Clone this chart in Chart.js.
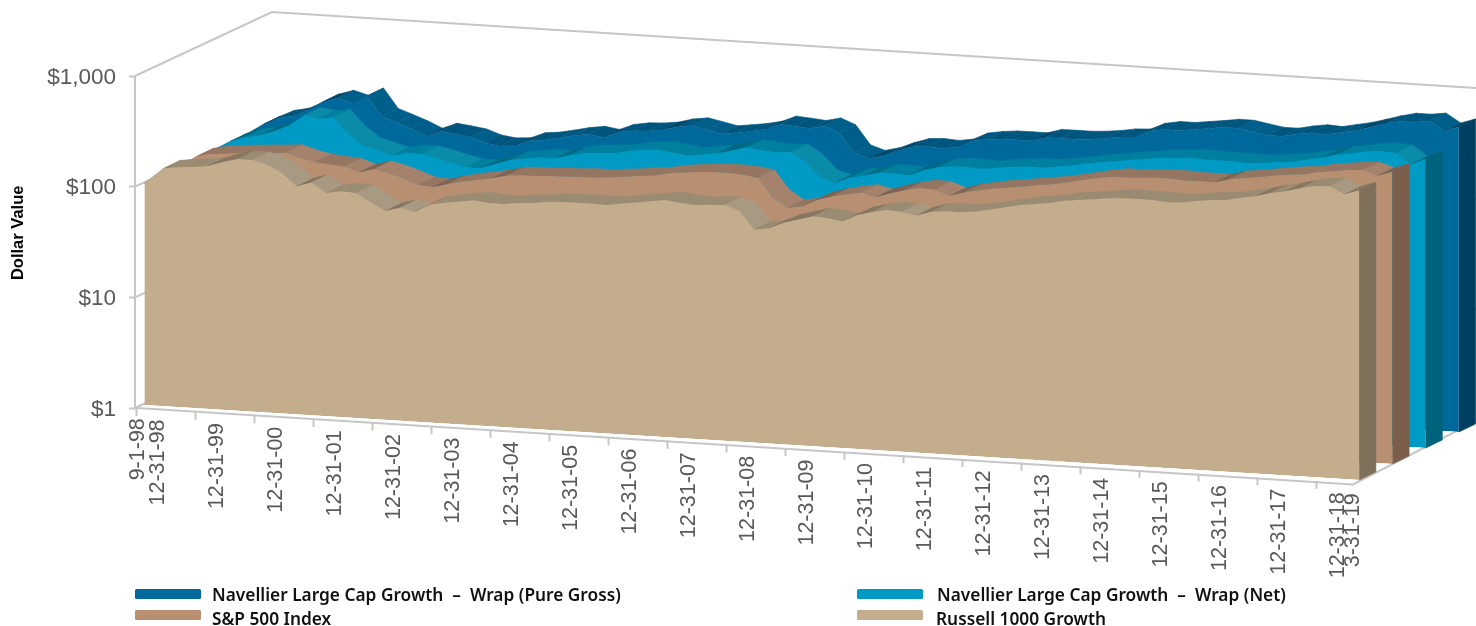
<!DOCTYPE html>
<html>
<head>
<meta charset="utf-8">
<style>html,body{margin:0;padding:0;background:#fff}canvas{display:block}</style>
<script src="https://cdn.jsdelivr.net/npm/chart.js@4"></script>
</head>
<body>
<canvas id="c" width="1476" height="626"></canvas>
<script>
const monthsFromStart = [0,4,7,10,13,16,19,22,25,28,31,34,37,40,43,46,49,52,55,58,61,64,67,70,73,76,79,82,85,88,91,94,97,100,103,106,109,112,115,118,121,124,127,130,133,136,139,142,145,148,151,154,157,160,163,166,169,172,175,178,181,184,187,190,193,196,199,202,205,208,211,214,217,220,223,226,229,232,235,238,241,244,247];
const tickMonths = [0,4,16,28,40,52,64,76,88,100,112,124,136,148,160,172,184,196,208,220,232,244,247];
const tickLabels = ['9-1-98','12-31-98','12-31-99','12-31-00','12-31-01','12-31-02','12-31-03','12-31-04','12-31-05','12-31-06','12-31-07','12-31-08','12-31-09','12-31-10','12-31-11','12-31-12','12-31-13','12-31-14','12-31-15','12-31-16','12-31-17','12-31-18','3-31-19'];
const yTickValues = [1,10,100,1000];

const russell1000 = [100,141,147,151,157,174,188,188,174,149,115,127,104,110,108,91,77,84,79,93,99,103,108,104,104,108,110,115,117,117,117,116,122,127,133,139,133,130,133,135,122,84,88,101,110,120,117,112,130,141,150,147,139,153,158,157,163,173,185,197,205,214,228,236,245,255,260,260,260,253,258,270,280,285,305,322,350,370,400,428,435,375,415];
const sp500 = [100,130,139,143,147,150,153,157,143,134,130,127,115,125,117,106,95,93,101,108,114,120,130,133,133,136,136,139,139,143,147,153,157,167,173,178,182,182,178,170,115,95,100,116,127,136,143,133,147,160,170,167,150,165,175,185,192,200,209,218,232,247,263,275,275,280,285,285,280,280,280,305,318,330,348,360,370,395,410,428,437,395,437];
const wrapNet = [100,127,141,150,167,192,240,228,240,173,139,127,117,125,125,117,108,101,101,112,124,130,136,136,147,157,160,163,173,182,185,178,170,178,185,200,218,209,205,209,173,127,117,133,141,153,153,150,170,185,192,192,188,197,205,209,209,218,228,240,253,263,275,285,300,300,312,305,305,305,300,305,318,325,348,370,400,418,445,455,445,360,410];
const wrapPureGross = [100,130,150,160,185,223,245,225,267,178,160,143,125,141,136,130,117,112,115,130,134,143,153,160,153,173,182,185,192,209,218,205,192,200,209,223,253,247,240,258,228,153,139,150,170,188,192,188,197,228,240,247,247,247,270,270,270,275,285,300,305,350,370,370,385,400,418,418,395,375,375,400,418,410,437,465,507,555,595,595,620,515,570];

const seriesNames = {
  gross: 'Navellier Large Cap Growth  –  Wrap (Pure Gross)',
  net: 'Navellier Large Cap Growth  –  Wrap (Net)',
  sp: 'S&P 500 Index',
  russell: 'Russell 1000 Growth'
};
const frontColors = ['#C3AD8C','#B98F72','#009AC4','#00699B'];
const sideColors  = ['#7F705C','#7B5F4C','#00637C','#003F60'];
const facetColors = [
  ['#857660','#9A8B73','#A89A82'],
  ['#7F6250','#967561','#A5826B'],
  ['#006B85','#007F9E','#0A8BA8'],
  ['#00476B','#00557E','#005F8A']
];
const GRAY = '#C6C6C6';
const TEXT = '#595959';

const SLOPE = 0.0617;
const STEP = {x:33.2, y:-16};
const FRONT = {x:8.3, y:-3};
const DEPTH = {x:16.6, y:-8};

class SlopedLinear extends Chart.LinearScale {
  _computeLabelItems(area){
    const items = super._computeLabelItems(area);
    items.forEach(it=>{
      const t = it.options.translation;
      it.options.translation = [t[0] + 2, t[1] + SLOPE*(t[0]-this.left)];
    });
    return items;
  }
  _computeGridLineItems(area){
    const items = super._computeGridLineItems(area);
    items.forEach(it=>{
      const d = SLOPE*(it.tx1-this.left);
      it.ty1 += d; it.ty2 += d;
    });
    return items;
  }
}
SlopedLinear.id = 'slopedLinear';
SlopedLinear.defaults = {};

class ShiftedLog extends Chart.LogarithmicScale {
  _computeLabelItems(area){
    const items = super._computeLabelItems(area);
    items.forEach(it=>{
      const t = it.options.translation;
      it.options.translation = [t[0], t[1] + 1.5];
    });
    return items;
  }
}
ShiftedLog.id = 'shiftedLog';
ShiftedLog.defaults = {};

const solidPlugin = {
  id:'solid3d',
  beforeDatasetsDraw(chart){
    const c = chart.ctx, y = chart.scales.y;
    c.save();
    c.strokeStyle = GRAY; c.lineWidth = 2;
    yTickValues.forEach(v=>{
      const py = y.getPixelForValue(v);
      c.beginPath();
      c.moveTo(135,py);
      c.lineTo(272,py-64);
      c.lineTo(1476,py-64+76);
      c.stroke();
    });
    c.beginPath();
    c.moveTo(135,y.top); c.lineTo(135,y.bottom); c.lineTo(137,y.bottom);
    c.lineTo(1353,484.5); c.lineTo(1476,421);
    c.stroke();
    c.restore();
  },
  beforeDatasetDraw(chart,args){
    const k = args.index, c = chart.ctx, pts = args.meta.data;
    const left = chart.scales.x.left, base = chart.scales.y.bottom;
    c.save();
    const e = FRONT.x + STEP.x*k;
    const f = FRONT.y + STEP.y*k - SLOPE*left;
    c.transform(1,SLOPE,0,1,e,f);
    const ex = DEPTH.x, ey = DEPTH.y - SLOPE*DEPTH.x;
    c.lineWidth = 0.6;
    for(let i=0;i<pts.length-1;i++){
      const a = pts[i], b = pts[i+1];
      const m = (b.y-a.y)/(b.x-a.x)+SLOPE;
      const col = facetColors[k][m<-0.18?0:(m>0.22?2:1)];
      c.fillStyle = col; c.strokeStyle = col;
      c.beginPath();
      c.moveTo(a.x,a.y); c.lineTo(b.x,b.y);
      c.lineTo(b.x+ex,b.y+ey); c.lineTo(a.x+ex,a.y+ey);
      c.closePath(); c.fill(); c.stroke();
    }
    const l = pts[pts.length-1];
    c.fillStyle = sideColors[k];
    c.strokeStyle = sideColors[k];
    c.beginPath();
    c.moveTo(l.x,l.y); c.lineTo(l.x+ex,l.y+ey);
    c.lineTo(l.x+ex,base+ey); c.lineTo(l.x,base);
    c.closePath(); c.fill(); c.stroke();
  },
  afterDatasetDraw(chart){ chart.ctx.restore(); },
  afterDraw(chart){
    const c = chart.ctx;
    const rows = [
      [seriesNames.gross,3,135,589,212,601],
      [seriesNames.net,2,857,589,937,601],
      [seriesNames.sp,1,135,610,212,625],
      [seriesNames.russell,0,857,610,936,625]
    ];
    c.save();
    c.font = '600 17.3px "Noto Sans"';
    c.textBaseline = 'alphabetic';
    rows.forEach(r=>{
      c.fillStyle = frontColors[r[1]];
      c.beginPath();
      c.roundRect(r[2],r[3],66,10,1.5);
      c.fill();
      c.fillStyle = '#111';
      c.fillText(r[0],r[4],r[5]);
    });
    c.restore();
  }
};

Chart.unregister(Chart.Filler);
Chart.register(solidPlugin, Chart.Filler, SlopedLinear, ShiftedLog);

const valueSeries = [russell1000, sp500, wrapNet, wrapPureGross];
const names = [seriesNames.russell, seriesNames.sp, seriesNames.net, seriesNames.gross];

new Chart(document.getElementById('c'),{
  type:'line',
  data:{
    datasets: valueSeries.map((vals,k)=>({
      label:names[k],
      data:vals.map((v,i)=>({x:monthsFromStart[i],y:v})),
      backgroundColor:frontColors[k],
      borderColor:frontColors[k],
      borderWidth:0,
      pointRadius:0,
      fill:'start',
      tension:0,
      clip:false
    }))
  },
  options:{
    responsive:false,
    animation:false,
    devicePixelRatio:1,
    layout:{padding:{top:76,right:125,left:0,bottom:0}},
    plugins:{legend:{display:false},tooltip:{enabled:false}},
    scales:{
      x:{
        type:'slopedLinear',
        position:'bottom',
        min:0,max:247,
        afterFit(s){s.height=218;},
        afterBuildTicks(s){
          const set = new Set(tickMonths);
          for(let m=0;m<=247;m+=12) set.add(m);
          s.ticks=[...set].sort((a,b)=>a-b).map(v=>({value:v}));
        },
        border:{display:false},
        grid:{
          drawOnChartArea:false,
          drawTicks:true,
          tickLength:8,
          tickWidth:2,
          tickColor:ctx=>(ctx.tick&&ctx.tick.value%12===0)?GRAY:'rgba(0,0,0,0)'
        },
        ticks:{
          autoSkip:false,
          minRotation:90,maxRotation:90,
          padding:3,
          color:TEXT,
          font:{family:'"Liberation Sans"',size:21.5},
          callback(v){const i=tickMonths.indexOf(v);return i<0?'':tickLabels[i];}
        }
      },
      y:{
        type:'shiftedLog',
        position:'left',
        min:1,max:1000,
        afterFit(s){s.width=136;},
        afterBuildTicks(s){s.ticks=yTickValues.map(v=>({value:v,major:true}));},
        border:{display:false},
        grid:{drawOnChartArea:false,tickLength:7,tickWidth:2,tickColor:GRAY},
        ticks:{
          padding:13,
          color:TEXT,
          font:{family:'"Liberation Sans"',size:22.5},
          callback(v){return '$'+v.toLocaleString('en-US');}
        },
        title:{
          display:true,
          text:'    Dollar Value',
          color:'#000',
          padding:{top:9,bottom:0},
          font:{family:'"Liberation Sans"',size:16.5,weight:'bold'}
        }
      }
    }
  }
});
</script>
</body>
</html>
